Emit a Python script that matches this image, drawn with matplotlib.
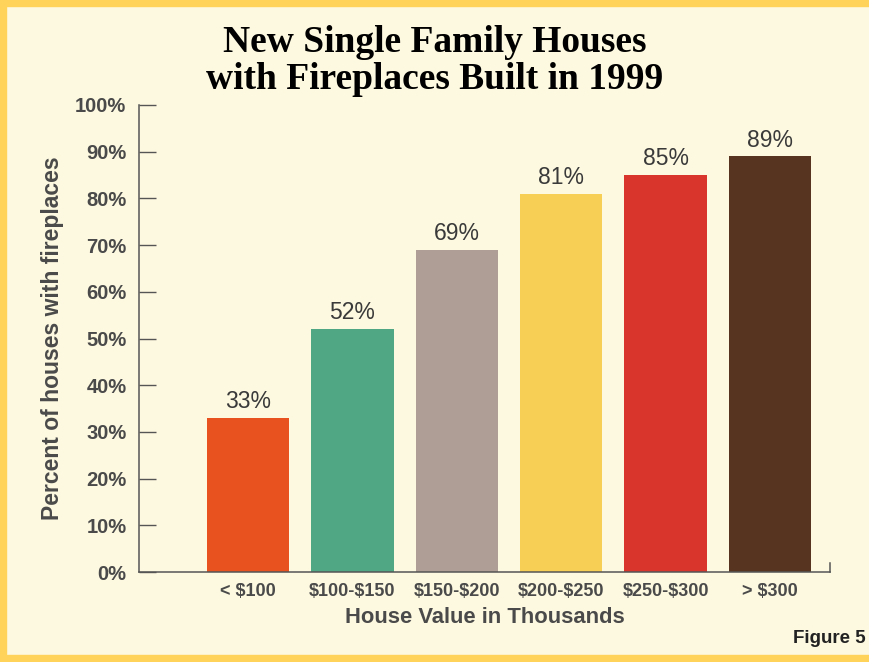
import matplotlib.pyplot as plt
from matplotlib.patches import Rectangle

# data
categories = ['< \\$100', '\\$100-\\$150', '\\$150-\\$200', '\\$200-\\$250', '\\$250-\\$300', '> \\$300']
values = [33, 52, 69, 81, 85, 89]
bar_colors = ['#E8521F', '#4FA784', '#AE9E95', '#F8CF55', '#D9352C', '#56341F']
yticks = [0, 10, 20, 30, 40, 50, 60, 70, 80, 90, 100]

bg = '#FDF9E0'
frame = '#FFD35A'
txt = '#4A4A4A'

fig = plt.figure(figsize=(8.7, 6.62), dpi=100)
fig.patch.set_facecolor(bg)

# yellow frame round the page (left, top, bottom)
fig.add_artist(Rectangle((0, 0), 6 / 870, 1, transform=fig.transFigure, color=frame, zorder=0))
fig.add_artist(Rectangle((0, 1 - 6 / 662), 1, 6 / 662, transform=fig.transFigure, color=frame, zorder=0))
fig.add_artist(Rectangle((0, 0), 1, 7 / 662, transform=fig.transFigure, color=frame, zorder=0))

ax = fig.add_axes([139 / 870, 90 / 662, 691 / 870, 467 / 662])
ax.set_facecolor(bg)

x = range(len(categories))
bars = ax.bar(x, values, width=0.79, color=bar_colors, edgecolor='none', zorder=2)
for xi, v in zip(x, values):
    ax.text(xi, v + 1.0, f'{v}%', ha='center', va='bottom', fontsize=16.5,
            color='#3A3A3A', family='Liberation Sans')

ax.set_xlim(-1.045, 5.575)
ax.set_ylim(0, 100)
ax.set_yticks(yticks)
ax.set_yticklabels([f'{t}%' for t in yticks], fontsize=14.5, color=txt,
                   family='Liberation Sans', fontweight='bold')
ax.tick_params(axis='y', direction='in', length=12, width=1, color='#555555', pad=9)
ax.set_xticks(list(x))
ax.set_xticklabels(categories, fontsize=13, color=txt, family='Liberation Sans',
                   fontweight='bold')
ax.tick_params(axis='x', length=0, pad=8)

ax.spines['top'].set_visible(False)
ax.spines['right'].set_bounds(0, 2)
for s in ['left', 'bottom', 'right']:
    ax.spines[s].set_color('#555555')
    ax.spines[s].set_linewidth(1.1)

ax.set_ylabel('Percent of houses with fireplaces', fontsize=16.5, color=txt,
              family='Liberation Sans', fontweight='bold', labelpad=8)
ax.set_xlabel('House Value in Thousands', fontsize=15.8, color=txt,
              family='Liberation Sans', fontweight='bold', labelpad=5)

fig.text(0.5, 0.908, 'New Single Family Houses\nwith Fireplaces Built in 1999',
         ha='center', va='center', fontsize=27, fontweight='bold',
         family='Liberation Serif', color='black', linespacing=1.1)
fig.text(0.995, 0.035, 'Figure 5', ha='right', va='center', fontsize=13.5,
         fontweight='bold', family='Liberation Sans', color='#222222')

fig.savefig('out.png', dpi=100, facecolor=fig.get_facecolor())
